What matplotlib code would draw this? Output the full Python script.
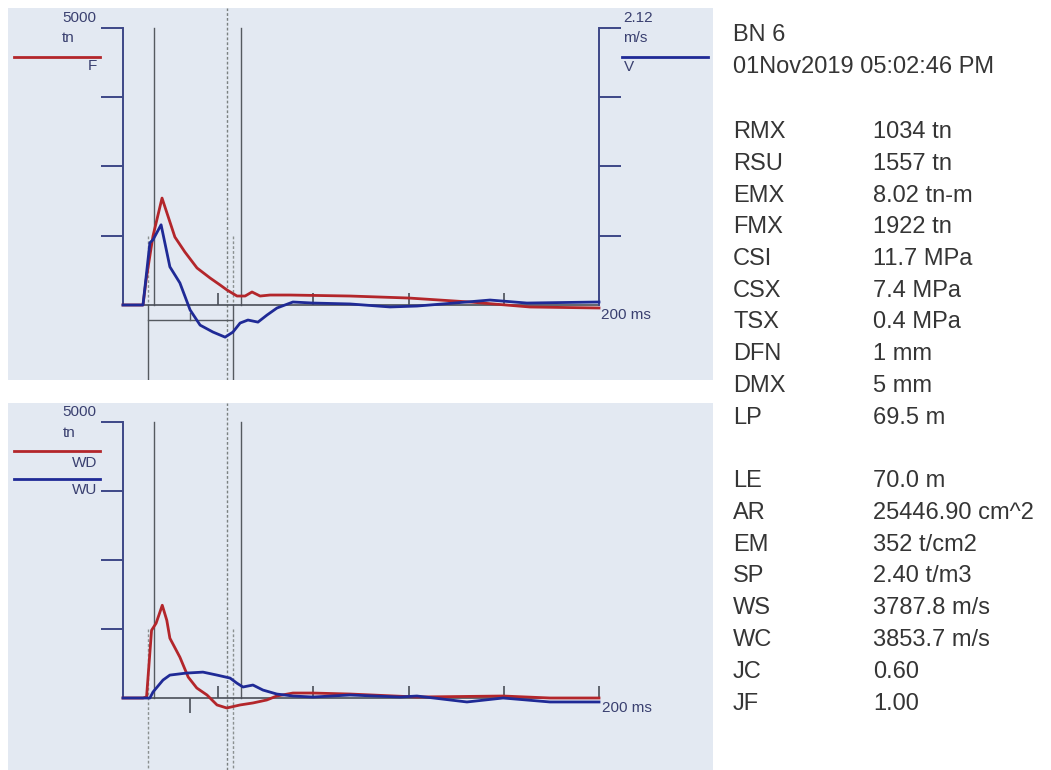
import matplotlib
matplotlib.use("Agg")
import matplotlib.pyplot as plt
from matplotlib.lines import Line2D

plt.rcParams['font.family'] = ['Liberation Sans', 'DejaVu Sans']

# ---- data (time in ms) ----
t_F = [0, 8.4, 9.7, 12.6, 16.4, 21.8, 26.0, 31.1, 36.6, 40.8, 43.7, 47.9, 51.3,
       54.2, 57.6, 61.8, 70.2, 95.4, 120.0, 145.8, 171.0, 200.0]
F = [0, 0, 450, 1245, 1930, 1227, 957, 668, 487, 361, 271, 162, 162,
     235, 162, 180, 180, 162, 126, 54, -36, -54]

t_V = [0, 8.4, 11.3, 12.6, 16.0, 19.7, 23.9, 28.2, 32.4, 37.8, 42.9, 46.2, 49.2,
       52.5, 56.7, 60.5, 64.7, 71.4, 79.8, 95.4, 112.2, 123.5, 144.5, 154.2, 169.7, 200.0]
V = [0, 0, 0.476, 0.499, 0.614, 0.292, 0.169, -0.038, -0.154, -0.207, -0.246, -0.207, -0.138,
     -0.115, -0.131, -0.077, -0.023, 0.023, 0.015, 0.008, -0.015, -0.008, 0.023, 0.038, 0.015, 0.023]

t_WD = [0, 8.4, 9.9, 12.0, 13.9, 16.5, 18.4, 19.7, 23.9, 27.4, 31.0, 35.3, 39.5,
        43.6, 49.2, 54.6, 60.4, 64.6, 71.4, 79.8, 95.4, 123.5, 159.7, 179.4, 200.0]
WD = [0, 0, 20, 1227, 1354, 1680, 1408, 1083, 740, 379, 181, 54, -126,
      -181, -126, -90, -36, 36, 90, 90, 72, 18, 36, 0, 0]

t_WU = [0, 11.3, 12.6, 16.8, 19.7, 26.5, 33.6, 39.5, 45.0, 47.8, 50.4, 54.6,
        58.8, 64.6, 71.4, 79.8, 95.4, 116.4, 123.5, 144.5, 159.7, 179.4, 200.0]
WU = [0, 0, 108, 325, 415, 451, 469, 415, 361, 271, 199, 235,
      144, 72, 36, 18, 54, 18, 36, -72, 0, -72, -72]

t_solid = [13.0, 49.6]
t_dotted = 43.7
t_window = [10.5, 46.2]
t_mid = 28.0

F_max = 5000
V_max = 2.12
t_end = 200
x_ticks = [40, 80, 120, 160]

labels1 = ['RMX', 'RSU', 'EMX', 'FMX', 'CSI', 'CSX', 'TSX', 'DFN', 'DMX', 'LP']
values1 = ['1034 tn', '1557 tn', '8.02 tn-m', '1922 tn', '11.7 MPa', '7.4 MPa',
           '0.4 MPa', '1 mm', '5 mm', '69.5 m']
labels2 = ['LE', 'AR', 'EM', 'SP', 'WS', 'WC', 'JC', 'JF']
values2 = ['70.0 m', '25446.90 cm^2', '352 t/cm2', '2.40 t/m3', '3787.8 m/s',
           '3853.7 m/s', '0.60', '1.00']

# ---- style ----
W, H = 1051, 770
bg = '#e3e9f2'
red = '#b3262b'
blue = '#1f2a96'
navy = '#3d4788'
gray = '#4a4f58'
txt = '#3a4070'


def fx(x):
    return x / W


def fy(y):
    return 1 - y / H


fig = plt.figure(figsize=(W / 100, H / 100), dpi=100)


def panel(top, bottom, axis_top, base):
    # axes covering the whole shaded panel, data scale 276 px per 5000 tn
    ax = fig.add_axes([fx(8), fy(bottom), (713 - 8) / W, (bottom - top) / H])
    ax.set_facecolor(bg)
    px_ms = (599 - 123) / t_end
    px_tn = (base - axis_top) / F_max
    ax.set_xlim(-(123 - 8) / px_ms, t_end + (713 - 599) / px_ms)
    ax.set_ylim(-(bottom - base) / px_tn, F_max + (axis_top - top) / px_tn)
    for s in ax.spines.values():
        s.set_visible(False)
    sl = ax.spines['left']
    sl.set_visible(True)
    sl.set_position(('data', 0))
    sl.set_bounds(0, F_max)
    sl.set_color(navy)
    sl.set_linewidth(1.4)
    sb = ax.spines['bottom']
    sb.set_visible(True)
    sb.set_position(('data', 0))
    sb.set_bounds(0, t_end)
    sb.set_color(gray)
    sb.set_linewidth(1.2)
    ax.set_yticks([1250, 2500, 3750, 5000])
    ax.tick_params(axis='y', direction='out', length=16, width=1.4, color=navy,
                   labelleft=False)
    ax.tick_params(axis='x', direction='in', length=9, width=1.2, color=gray,
                   labelbottom=False)
    for t in t_solid:
        ax.plot([t, t], [0, F_max], color='#555a60', lw=1.0, zorder=1)
    ax.axvline(t_dotted, ymax=1.0, color='#7a8080', lw=1.0, ls=(0, (2, 1.5)), zorder=1)
    return ax


# ---- top panel: F and V ----
ax1 = panel(8, 380, 28, 305)
ax1.set_xticks(x_ticks)
for t in t_window:
    ax1.plot([t, t], [1250, 0], color='#8a9090', lw=1.0, ls=(0, (2, 1.5)), zorder=1)
    ax1.plot([t, t], [0, ax1.get_ylim()[0]], color='#555a60', lw=1.0, zorder=1)
ax1.plot(t_window, [-271, -271], color='#555a60', lw=1.0, zorder=1)
ax1.plot([t_mid, t_mid], [-271, -150], color='#555a60', lw=1.0, zorder=1)
ax1.plot(t_F, F, color=red, lw=2.0, zorder=3)

ax2 = ax1.twinx()
ax2.set_ylim([v * V_max / F_max for v in ax1.get_ylim()])
for s in ax2.spines.values():
    s.set_visible(False)
sr = ax2.spines['right']
sr.set_visible(True)
sr.set_position(('data', t_end))
sr.set_bounds(0, V_max)
sr.set_color(navy)
sr.set_linewidth(1.4)
ax2.set_yticks([V_max / 4, V_max / 2, 3 * V_max / 4, V_max])
ax2.tick_params(axis='y', direction='out', length=16, width=1.4, color=navy,
                labelright=False)
ax2.plot(t_V, V, color=blue, lw=2.0, zorder=3)

# ---- bottom panel: WD and WU ----
ax3 = panel(403, 770, 422, 698)
ax3.set_xticks(x_ticks + [t_end])
ax3.set_xticks([t_mid], minor=True)
ax3.tick_params(axis='x', which='minor', direction='out', length=11, width=1.2,
                color=gray, labelbottom=False)
for t in t_window:
    ax3.plot([t, t], [1250, ax3.get_ylim()[0]], color='#8a9090', lw=1.0,
             ls=(0, (2, 1.5)), zorder=1)
ax3.plot(t_WD, WD, color=red, lw=2.0, zorder=3)
ax3.plot(t_WU, WU, color=blue, lw=2.0, zorder=3)

# ---- panel labels and legend strokes ----
fs = 11
fig.text(fx(62), fy(18), '5000', fontsize=fs, color=txt, va='center')
fig.text(fx(62), fy(38), 'tn', fontsize=fs, color=txt, va='center')
fig.add_artist(Line2D([fx(14), fx(100)], [fy(57), fy(57)], color=red, lw=2.0))
fig.text(fx(97), fy(66), 'F', fontsize=fs, color=txt, va='center', ha='right')

fig.text(fx(623), fy(18), '2.12', fontsize=fs, color=txt, va='center')
fig.text(fx(623), fy(38), 'm/s', fontsize=fs, color=txt, va='center')
fig.add_artist(Line2D([fx(622), fx(708)], [fy(57), fy(57)], color=blue, lw=2.0))
fig.text(fx(624), fy(67), 'V', fontsize=fs, color=txt, va='center')
fig.text(fx(601), fy(315), '200 ms', fontsize=fs, color=txt, va='center')

fig.text(fx(62), fy(412), '5000', fontsize=fs, color=txt, va='center')
fig.text(fx(63), fy(433), 'tn', fontsize=fs, color=txt, va='center')
fig.add_artist(Line2D([fx(14), fx(100)], [fy(451), fy(451)], color=red, lw=2.0))
fig.text(fx(97), fy(463), 'WD', fontsize=fs, color=txt, va='center', ha='right')
fig.add_artist(Line2D([fx(14), fx(100)], [fy(479), fy(479)], color=blue, lw=2.0))
fig.text(fx(97), fy(490), 'WU', fontsize=fs, color=txt, va='center', ha='right')
fig.text(fx(602), fy(708), '200 ms', fontsize=fs, color=txt, va='center')

# ---- result table ----
tfs = 17
tc = '#353535'
fig.text(fx(733), fy(35), 'BN 6', fontsize=tfs, color=tc, va='center')
fig.text(fx(733), fy(67), '01Nov2019 05:02:46 PM', fontsize=tfs, color=tc, va='center')
row = 31.75
for i, (lab, val) in enumerate(zip(labels1, values1)):
    y = 132 + i * row
    fig.text(fx(733), fy(y), lab, fontsize=tfs, color=tc, va='center')
    fig.text(fx(873), fy(y), val, fontsize=tfs, color=tc, va='center')
for i, (lab, val) in enumerate(zip(labels2, values2)):
    y = 132 + (11 + i) * row
    fig.text(fx(733), fy(y), lab, fontsize=tfs, color=tc, va='center')
    fig.text(fx(873), fy(y), val, fontsize=tfs, color=tc, va='center')

fig.savefig('out.png', dpi=100)
